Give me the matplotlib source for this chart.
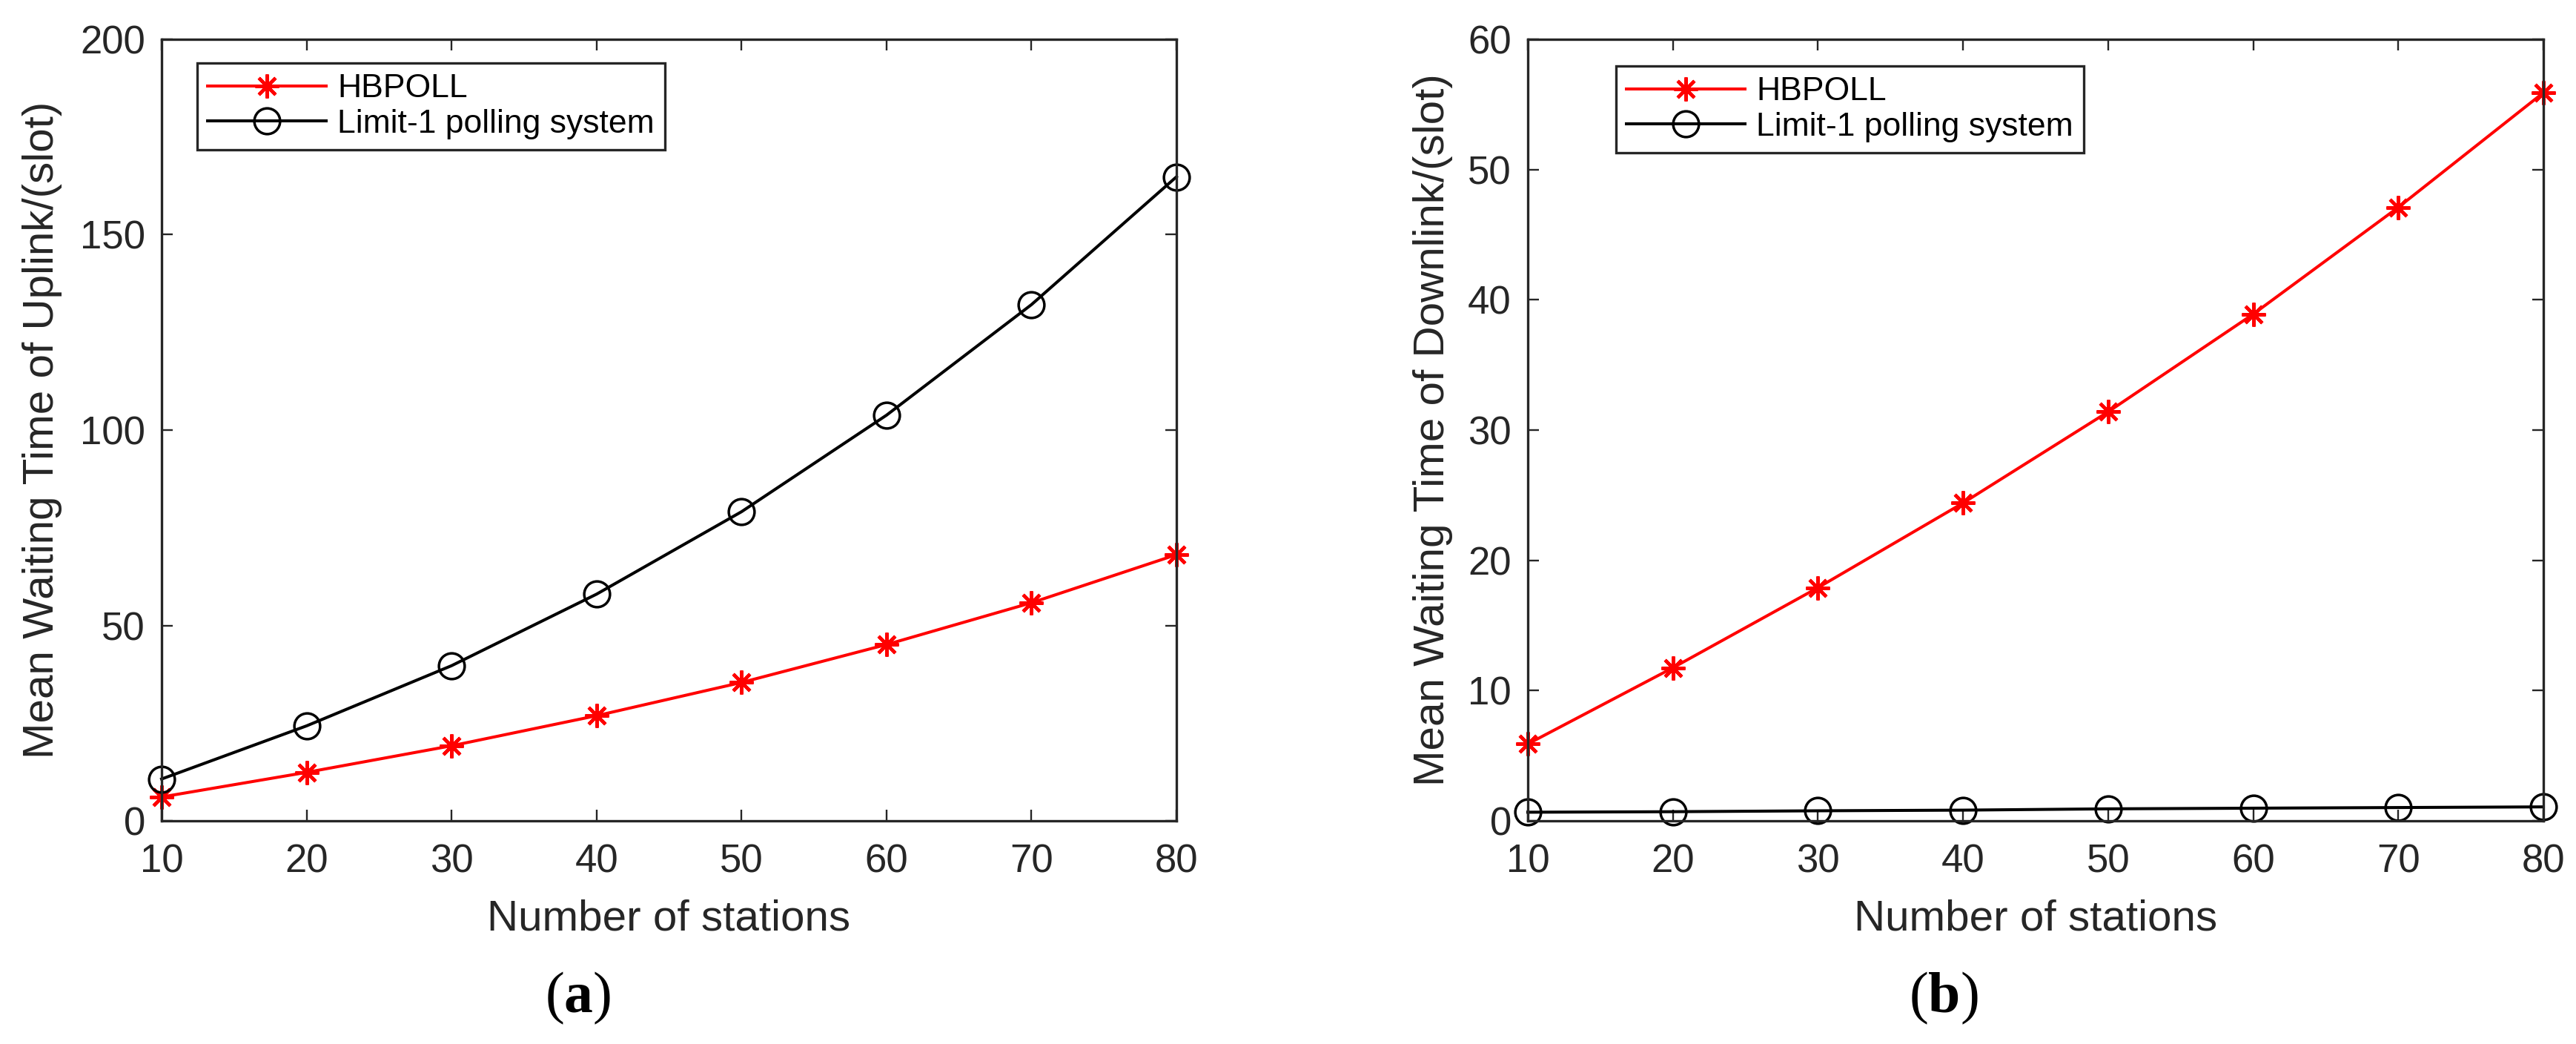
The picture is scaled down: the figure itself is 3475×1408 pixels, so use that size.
"""Mean waiting time of uplink / downlink vs. number of stations (HBPOLL vs limit-1)."""

import matplotlib
matplotlib.use("Agg")
import matplotlib.pyplot as plt

plt.rcParams["font.family"] = ["Liberation Sans", "DejaVu Sans"]
plt.rcParams["mathtext.fontset"] = "custom"
plt.rcParams["mathtext.rm"] = "Liberation Serif"
plt.rcParams["mathtext.bf"] = "Liberation Serif:bold"

# ---- data ----
stations = [10, 20, 30, 40, 50, 60, 70, 80]

uplink_hbpoll = [6.1, 12.4, 19.2, 26.9, 35.4, 45.1, 55.8, 68.1]
uplink_limit1 = [10.7, 24.3, 39.7, 58.0, 79.1, 103.8, 132.1, 164.8]

downlink_hbpoll = [5.9, 11.75, 17.9, 24.4, 31.4, 38.9, 47.1, 55.9]
downlink_limit1 = [0.66, 0.70, 0.77, 0.82, 0.92, 0.97, 1.02, 1.07]

series_labels = ["HBPOLL", "Limit-1 polling system"]
x_label = "Number of stations"
y_labels = ["Mean Waiting Time of Uplink/(slot)",
            "Mean Waiting Time of Downlink/(slot)"]
y_ticks = [[0, 50, 100, 150, 200], [0, 10, 20, 30, 40, 50, 60]]
captions = ["a", "b"]

W, H = 3475, 1408
GREY = "#262626"


def style_axes(ax, yticks):
    ax.set_xlim(10, 80)
    ax.set_ylim(yticks[0], yticks[-1])
    ax.set_xticks(stations)
    ax.set_yticks(yticks)
    for sp in ax.spines.values():
        sp.set_color(GREY)
        sp.set_linewidth(2.4)
    ax.tick_params(direction="in", length=10.5, width=1.7, colors=GREY,
                   labelsize=38, top=True, right=True)
    ax.tick_params(axis="x", pad=22)
    ax.tick_params(axis="y", pad=16)


def draw_panel(ax, hb, lim, yticks, ylabel, legend_xy, ylabel_x):
    ax.plot(stations, hb, color="red", lw=2.9, marker=(8, 2, 0), ms=23,
            mew=3.2, label=series_labels[0])
    ax.plot(stations, lim, color="black", lw=2.9, marker="o", ms=25,
            mfc="none", mew=2.5, label=series_labels[1])
    for ln in ax.lines:
        ln.set_clip_on(False)
    style_axes(ax, yticks)
    ax.set_xlabel(x_label, fontsize=42, color=GREY)
    ax.set_ylabel(ylabel, fontsize=42, color=GREY)
    ax.xaxis.set_label_coords(0.5, -0.10)
    ax.yaxis.set_label_coords(ylabel_x, 0.5)
    leg = ax.legend(loc="upper left", bbox_to_anchor=legend_xy,
                    bbox_transform=ax.figure.transFigure, fontsize=32,
                    frameon=True, fancybox=False, framealpha=1,
                    edgecolor=GREY, borderpad=0.32, labelspacing=0.15,
                    handlelength=3.6, handletextpad=0.33, borderaxespad=0)
    leg.get_frame().set_linewidth(2.4)


fig = plt.figure(figsize=(W / 100, H / 100), dpi=100)
ax_a = fig.add_axes([218 / W, 1 - 1107 / H, 1369 / W, 1054 / H])
ax_b = fig.add_axes([2061 / W, 1 - 1107 / H, 1370 / W, 1054 / H])

draw_panel(ax_a, uplink_hbpoll, uplink_limit1, y_ticks[0], y_labels[0],
           (266 / W, 1 - 85 / H), -0.098)
draw_panel(ax_b, downlink_hbpoll, downlink_limit1, y_ticks[1], y_labels[1],
           (2180 / W, 1 - 89 / H), -0.074)

for cx, cap in zip([780, 2622], captions):
    fig.text(cx / W, 1 - 1365 / H, r"($\mathbf{%s}$)" % cap,
             fontfamily="Liberation Serif", fontsize=56, ha="center",
             va="baseline", color="black")

fig.savefig("out.png", dpi=100)
